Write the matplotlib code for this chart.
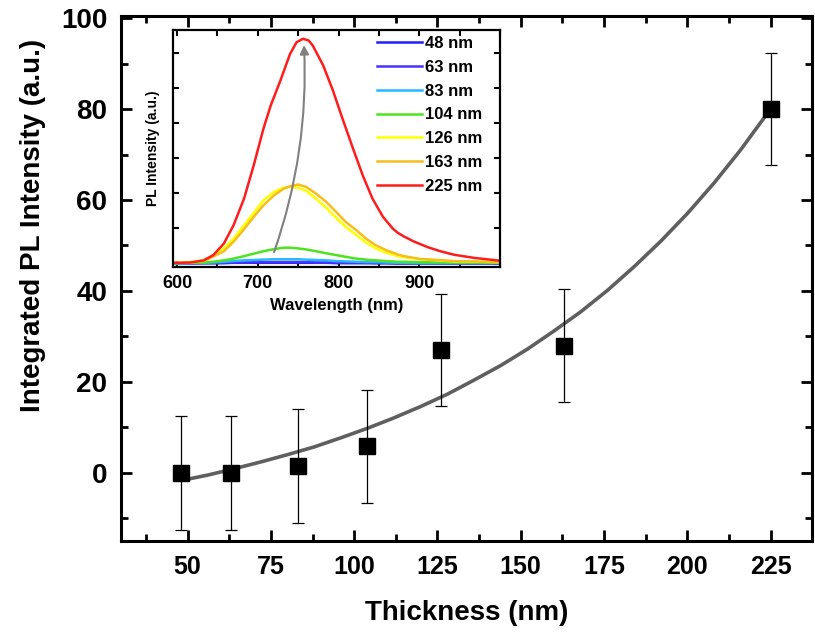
import matplotlib
matplotlib.use("Agg")
import matplotlib.pyplot as plt
from matplotlib.ticker import MultipleLocator, NullFormatter

plt.rcParams['font.family'] = ['Liberation Sans', 'DejaVu Sans']
plt.rcParams['font.weight'] = 'bold'

# main panel: integrated PL vs thickness
thickness = [48, 63, 83, 104, 126, 163, 225]
pl_int = [0, 0, 1.5, 5.8, 27, 28, 80]
pl_err = [12.6, 12.6, 12.6, 12.4, 12.4, 12.4, 12.3]

# fitted curve
fit_x = [48, 56, 64, 72, 80, 88, 96, 104, 112, 120, 128, 136, 144, 152,
         160, 168, 176, 184, 192, 200, 208, 216, 225]
fit_y = [-1.7, -0.5, 0.9, 2.4, 4.0, 5.7, 7.7, 9.8, 12.1, 14.6, 17.3, 20.4, 23.6, 27.2,
         31.2, 35.4, 40.1, 45.3, 50.9, 57.0, 63.7, 71.0, 80.0]

# inset: PL spectra (two wavelength grids)
wl_red = [595, 605, 617, 633, 645, 658, 670, 683, 695, 707, 716, 728, 740, 748, 756, 763,
          768, 781, 793, 805, 818, 830, 842, 855, 867, 873, 881, 893, 910, 926, 943, 968, 1000]
pl_225 = [0.02, 0.02, 0.03, 0.09, 0.24, 0.57, 1.09, 1.85, 2.80, 3.84, 4.50, 5.21, 5.97, 6.30,
          6.40, 6.35, 6.21, 5.64, 4.93, 4.12, 3.27, 2.51, 1.85, 1.33, 1.00, 0.88, 0.77, 0.63,
          0.47, 0.35, 0.25, 0.16, 0.08]

wl_mid = [595, 617, 633, 645, 658, 670, 683, 695, 707, 720, 732, 740, 750, 760, 772, 785,
          797, 809, 822, 834, 846, 859, 873, 881, 901, 943, 1000]
pl_163 = [0.02, 0.03, 0.07, 0.20, 0.35, 0.62, 0.98, 1.33, 1.66, 1.94, 2.13, 2.20, 2.25, 2.18,
          1.99, 1.75, 1.47, 1.18, 0.95, 0.71, 0.52, 0.38, 0.26, 0.21, 0.13, 0.07, 0.04]
pl_126 = [0.02, 0.04, 0.09, 0.24, 0.43, 0.71, 1.09, 1.44, 1.80, 2.04, 2.16, 2.18, 2.16, 2.07,
          1.85, 1.58, 1.30, 1.04, 0.81, 0.60, 0.43, 0.31, 0.21, 0.18, 0.12, 0.06, 0.04]
pl_104 = [0.01, 0.02, 0.03, 0.05, 0.09, 0.14, 0.21, 0.28, 0.35, 0.41, 0.45, 0.45, 0.43, 0.40,
          0.35, 0.29, 0.24, 0.19, 0.14, 0.11, 0.09, 0.07, 0.05, 0.05, 0.04, 0.03, 0.02]
pl_83 = [0.0, 0.01, 0.02, 0.03, 0.05, 0.07, 0.09, 0.10, 0.11, 0.12, 0.12, 0.12, 0.12, 0.11,
         0.10, 0.09, 0.07, 0.06, 0.05, 0.04, 0.04, 0.03, 0.02, 0.02, 0.01, 0.01, 0.01]
pl_63 = [0.0, 0.01, 0.01, 0.01, 0.02, 0.03, 0.03, 0.04, 0.04, 0.04, 0.04, 0.04, 0.04, 0.04,
         0.03, 0.03, 0.03, 0.02, 0.02, 0.02, 0.01, 0.01, 0.01, 0.01, 0.01, 0.0, 0.0]
pl_48 = [0.0, 0.0, 0.01, 0.01, 0.01, 0.02, 0.02, 0.02, 0.02, 0.02, 0.02, 0.02, 0.02, 0.02,
         0.02, 0.02, 0.01, 0.01, 0.01, 0.01, 0.01, 0.01, 0.0, 0.0, 0.0, 0.0, 0.0]

labels = ['48 nm', '63 nm', '83 nm', '104 nm', '126 nm', '163 nm', '225 nm']
colors = ['#1f1fff', '#4a33ff', '#26b8ff', '#4fe31f', '#ffff00', '#f7bd1c', '#ff1c1c']

fig = plt.figure(figsize=(8.15, 6.35), dpi=100)
ax = fig.add_axes([0.1485, 0.148, 0.848, 0.827])

ax.plot(fit_x, fit_y, color='#5f5f5f', linewidth=2.6, zorder=2, solid_capstyle='round')
ax.errorbar(thickness, pl_int, yerr=pl_err, fmt='s', color='black', markersize=11.5,
            ecolor='black', elinewidth=0.9, capsize=4.5, capthick=0.9, zorder=3)

ax.set_xlim(30, 237.5)
ax.set_ylim(-15, 100.5)
ax.set_xticks([50, 75, 100, 125, 150, 175, 200, 225])
ax.xaxis.set_minor_locator(MultipleLocator(12.5))
ax.yaxis.set_major_locator(MultipleLocator(20))
ax.yaxis.set_minor_locator(MultipleLocator(10))
ax.tick_params(which='both', direction='in', top=True, right=True, width=2)
ax.tick_params(which='major', length=8)
ax.tick_params(which='minor', length=5)
ax.tick_params(axis='x', labelsize=18, pad=10)
ax.tick_params(axis='y', labelsize=20, pad=10)
for lab in ax.get_xticklabels() + ax.get_yticklabels():
    lab.set_fontweight('bold')
for s in ax.spines.values():
    s.set_linewidth(2.2)
ax.set_xlabel('Thickness (nm)', fontsize=20, fontweight='bold', labelpad=15)
ax.set_ylabel('Integrated PL Intensity (a.u.)', fontsize=20, fontweight='bold')
ax.yaxis.set_label_coords(-0.108, 0.6)

# inset
ins = fig.add_axes([0.2123, 0.5795, 0.4012, 0.3733])
series = [(wl_mid, pl_48), (wl_mid, pl_63), (wl_mid, pl_83), (wl_mid, pl_104),
          (wl_mid, pl_126), (wl_mid, pl_163), (wl_red, pl_225)]
for (wl, vals), name, c in zip(series, labels, colors):
    ins.plot(wl, vals, color=c, linewidth=1.8, label=name)
ins.set_xlim(595, 1000)
ins.set_ylim(-0.1, 6.65)
ins.set_xticks([600, 700, 800, 900])
ins.xaxis.set_minor_locator(MultipleLocator(50))
ins.yaxis.set_major_locator(MultipleLocator(1))
ins.yaxis.set_major_formatter(NullFormatter())
ins.tick_params(which='both', direction='in', top=True, right=True, width=1.5, length=4)
ins.tick_params(axis='x', labelsize=13, pad=6)
for lab in ins.get_xticklabels():
    lab.set_fontweight('bold')
for s in ins.spines.values():
    s.set_linewidth(1.6)
ins.set_xlabel('Wavelength (nm)', fontsize=12, fontweight='bold', labelpad=4)
ins.set_ylabel('PL Intensity (a.u.)', fontsize=10, fontweight='bold', labelpad=6)

ins.annotate('', xy=(757, 6.3), xytext=(719, 0.25),
             arrowprops=dict(arrowstyle='-|>', color='#808080', lw=1.5,
                             mutation_scale=13, connectionstyle='arc3,rad=0.1'))

leg = ins.legend(loc='upper left', bbox_to_anchor=(0.624, 0.975), frameon=False,
                 fontsize=12, handlelength=2.7, labelspacing=0.53, handletextpad=0.2,
                 borderpad=0, borderaxespad=0)
for t in leg.get_texts():
    t.set_fontweight('bold')

fig.savefig('out.png', dpi=100)
